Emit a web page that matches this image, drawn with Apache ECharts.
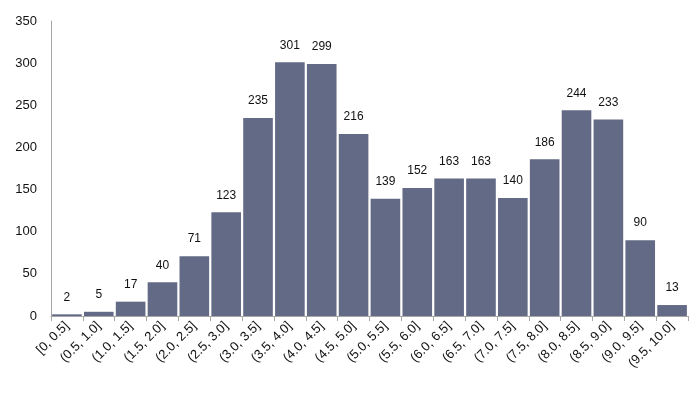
<!DOCTYPE html>
<html><head><meta charset="utf-8">
<script src="https://cdn.jsdelivr.net/npm/echarts@6/dist/echarts.min.js"></script>
<style>html,body{margin:0;padding:0;background:#fff}#c{width:700px;height:396px}</style>
</head><body><div id="c"></div>
<script>
const categories = ["[0, 0.5]","(0.5, 1.0]","(1.0, 1.5]","(1.5, 2.0]","(2.0, 2.5]","(2.5, 3.0]","(3.0, 3.5]","(3.5, 4.0]","(4.0, 4.5]","(4.5, 5.0]","(5.0, 5.5]","(5.5, 6.0]","(6.0, 6.5]","(6.5, 7.0]","(7.0, 7.5]","(7.5, 8.0]","(8.0, 8.5]","(8.5, 9.0]","(9.0, 9.5]","(9.5, 10.0]"];
const counts = [2,5,17,40,71,123,235,301,299,216,139,152,163,163,140,186,244,233,90,13];
const chart = echarts.init(document.getElementById('c'));
chart.setOption({
  animation:false,
  grid:{left:51,right:12,top:21,bottom:80},
  xAxis:{type:'category',data:categories,
    axisLine:{lineStyle:{color:'#a6a6a6'}},
    axisTick:{show:true,alignWithLabel:false,length:5,lineStyle:{color:'#a6a6a6'}},
    axisLabel:{rotate:45,interval:0,color:'#111',fontFamily:'Liberation Sans, Arial',fontSize:13,margin:8}},
  yAxis:{type:'value',min:0,max:350,interval:50,
    axisLine:{show:true,lineStyle:{color:'#a6a6a6'}},
    axisTick:{show:false},splitLine:{show:false},
    axisLabel:{color:'#111',fontFamily:'Liberation Sans, Arial',fontSize:13,margin:14}},
  series:[{type:'bar',data:counts,barCategoryGap:'7%',
    itemStyle:{color:'#636a86'},
    label:{show:true,position:'top',distance:11,color:'#111',fontFamily:'Liberation Sans, Arial',fontSize:12}}]
});
</script></body></html>
